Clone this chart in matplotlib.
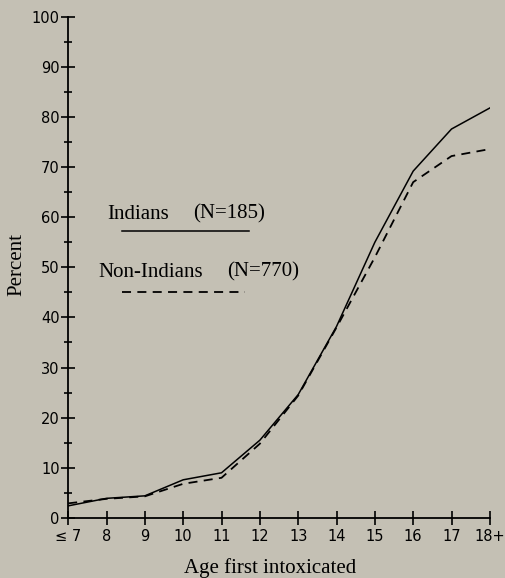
import matplotlib
matplotlib.use("Agg")
import matplotlib.pyplot as plt
import numpy as np

# ages (7 = "7 or under", 18 = "18+")
ages = [7, 8, 9, 10, 11, 12, 13, 14, 15, 16, 17, 18]
age_labels = ["\u2264 7", "8", "9", "10", "11", "12", "13", "14", "15", "16", "17", "18+"]

indians = [2.4, 3.9, 4.4, 7.6, 9.0, 15.5, 24.6, 38.2, 55.0, 69.2, 77.6, 81.8]
non_indians = [2.9, 3.8, 4.3, 6.8, 8.0, 14.8, 24.4, 38.0, 52.0, 67.0, 72.2, 73.6]

bg = "#c4c0b4"
serif = ["Liberation Serif", "DejaVu Serif"]

fig = plt.figure(figsize=(5.05, 5.78), dpi=100, facecolor=bg)
ax = fig.add_axes([0.135, 0.104, 0.835, 0.867])
ax.set_facecolor(bg)

ax.plot(ages, indians, color="black", lw=1.1, solid_joinstyle="miter")
ax.plot(ages, non_indians, color="black", lw=1.3, ls=(0, (5, 3.5)))

# legend drawn inside the plot as in the original
ax.text(8.02, 60.6, "Indians", family=serif, fontsize=15, va="center")
ax.text(10.26, 60.6, "(N=185)", family=serif, fontsize=15, va="center")
ax.plot([8.41, 11.73], [57.2, 57.2], color="black", lw=1.1)
ax.text(7.78, 49.0, "Non-Indians", family=serif, fontsize=15, va="center")
ax.text(11.15, 49.0, "(N=770)", family=serif, fontsize=15, va="center")
ax.plot([8.41, 11.62], [45.0, 45.0], color="black", lw=1.3, ls=(0, (5, 3.5)))

ax.set_xlim(7, 18)
ax.set_ylim(0, 100)
ax.set_xticks(ages)
ax.set_xticklabels(age_labels)
ax.set_yticks(np.arange(0, 101, 10))
ax.set_yticks(np.arange(5, 100, 10), minor=True)

for s in ["top", "right"]:
    ax.spines[s].set_visible(False)
for s in ["left", "bottom"]:
    ax.spines[s].set_linewidth(1.3)

ax.tick_params(axis="both", which="major", direction="inout", length=10, width=1.2,
               labelsize=10.5, pad=1)
ax.tick_params(axis="y", which="minor", direction="inout", length=6, width=1.2)
ax.tick_params(axis="x", pad=3)

fig.text(17 / 505, 1 - 264 / 578, "Percent", family=serif, fontsize=15,
         rotation=90, ha="center", va="center")
fig.text(270 / 505, 1 - 568 / 578, "Age first intoxicated", family=serif, fontsize=15,
         ha="center", va="center")

fig.savefig("out.png", dpi=100, facecolor=bg)
